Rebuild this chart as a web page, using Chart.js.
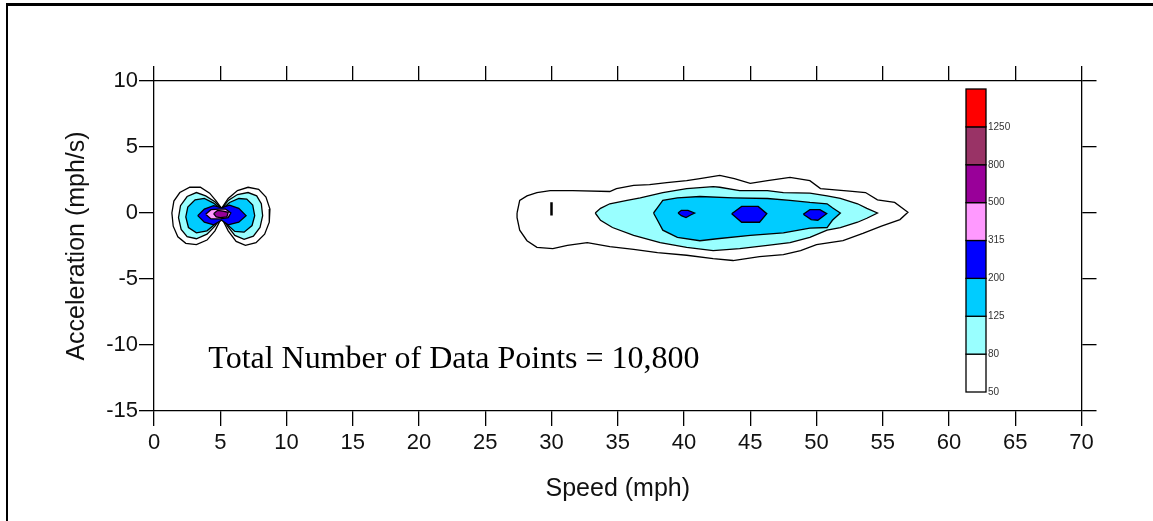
<!DOCTYPE html>
<html><head><meta charset="utf-8">
<script src="https://cdn.jsdelivr.net/npm/chart.js@4.4.1/dist/chart.umd.min.js"></script>
<style>
html,body{margin:0;padding:0;background:#fff;overflow:hidden;}
#wrap{position:relative;width:1153px;height:521px;overflow:hidden;}
#frame{position:absolute;left:6px;top:3px;width:1300px;height:700px;border-left:2px solid #000;border-top:3px solid #000;pointer-events:none;}
canvas{position:absolute;left:0;top:0;}
</style></head><body>
<div id="wrap"><canvas id="c" width="1153" height="521"></canvas><div id="frame"></div></div>
<script>
// ---- axis ticks ----
const speedTicks = [0,5,10,15,20,25,30,35,40,45,50,55,60,65,70];
const accelTicks = [-15,-10,-5,0,5,10];

// ---- contour levels & colours ----
const contourLevels = [50,80,125,200,315,500,800,1250];
const levelColors = ['#FFFFFF','#99FFFF','#00CCFF','#0000FF','#FF99FF','#990099','#993366','#FF0000'];
const dataPointCount = 10800;

// ---- low-speed cluster (around 5 mph), [speed, acceleration] ----
const lowC50 = [[5.1,0.35],[5.6,1.1],[6.3,1.7],[7.1,1.95],[7.9,1.8],[8.45,1.2],[8.75,0.3],[8.7,-0.7],[8.35,-1.6],[7.7,-2.25],[6.9,-2.45],[6.2,-2.15],[5.6,-1.35],[5.1,-0.35],[4.6,-1.35],[4.0,-2.05],[3.2,-2.4],[2.4,-2.3],[1.8,-1.8],[1.45,-1.0],[1.35,0.0],[1.5,0.9],[1.95,1.55],[2.7,1.95],[3.5,1.95],[4.2,1.5],[4.7,0.9],[5.1,0.35]];
const lowC80 = [[5.1,0.3],[5.6,0.95],[6.3,1.4],[7.1,1.55],[7.75,1.3],[8.1,0.7],[8.2,-0.2],[8.0,-1.1],[7.5,-1.75],[6.8,-2.0],[6.1,-1.7],[5.55,-1.0],[5.1,-0.3],[4.6,-1.0],[4.0,-1.6],[3.2,-1.95],[2.5,-1.8],[2.05,-1.25],[1.85,-0.35],[2.0,0.55],[2.5,1.25],[3.2,1.55],[3.9,1.3],[4.6,0.85],[5.1,0.3]];
const lowC125 = [[5.1,0.25],[5.7,0.8],[6.4,1.1],[7.0,1.05],[7.45,0.6],[7.6,-0.2],[7.4,-0.95],[6.8,-1.45],[6.1,-1.4],[5.5,-0.85],[5.1,-0.25],[4.6,-0.85],[4.0,-1.35],[3.2,-1.5],[2.6,-1.1],[2.4,-0.3],[2.55,0.45],[3.1,1.0],[3.8,1.1],[4.5,0.75],[5.1,0.25]];
const lowC200 = [[3.3,-0.2],[3.8,0.3],[4.5,0.55],[5.1,0.4],[5.7,0.6],[6.4,0.35],[6.95,-0.2],[6.4,-0.7],[5.6,-0.9],[5.1,-0.55],[4.5,-0.9],[3.8,-0.7],[3.3,-0.2]];
const lowC315 = [[3.9,-0.1],[4.3,0.25],[4.9,0.3],[5.4,0.3],[5.8,0.0],[5.6,-0.35],[5.0,-0.45],[4.3,-0.45],[3.9,-0.1]];
const lowC500 = [[4.5,-0.05],[4.8,0.2],[5.2,0.15],[5.6,0.05],[5.5,-0.3],[5.0,-0.35],[4.7,-0.3],[4.5,-0.05]];

// ---- cruising cluster (30-57 mph) ----
const highC50 = [[27.4,0],[27.6,0.95],[28.15,1.3],[28.9,1.55],[29.9,1.7],[31.6,1.7],[34.4,1.63],[34.9,1.85],[36.2,2.1],[37.4,2.15],[38.7,2.3],[40.2,2.45],[41.2,2.6],[42.7,2.85],[43.8,2.6],[45.0,2.25],[46.3,2.45],[48.0,2.7],[49.5,2.45],[50.3,1.85],[52.5,1.65],[53.7,1.55],[54.6,1.0],[55.9,0.8],[56.9,0.05],[56.3,-0.5],[54.9,-1.0],[53.5,-1.55],[52.0,-2.1],[50.0,-2.4],[48.8,-2.85],[47.5,-3.15],[45.7,-3.3],[43.7,-3.6],[42.2,-3.45],[40.2,-3.2],[38.0,-3.0],[36.2,-2.75],[34.4,-2.55],[32.7,-2.25],[31.2,-2.45],[30.1,-2.7],[28.9,-2.6],[28.15,-2.1],[27.6,-1.3],[27.4,-0.35],[27.4,0]];
const highC80 = [[33.3,0],[33.7,0.35],[34.4,0.7],[35.7,0.95],[36.7,1.15],[38.4,1.55],[40.2,1.85],[42.2,2.0],[42.7,1.95],[44.2,1.7],[46.3,1.7],[47.5,1.55],[49.5,1.5],[50.8,1.3],[51.8,1.1],[53.1,0.7],[53.8,0.35],[54.6,0],[53.8,-0.4],[53.1,-0.7],[51.8,-1.1],[50.8,-1.3],[49.5,-1.85],[48.0,-2.25],[46.3,-2.45],[44.2,-2.7],[42.2,-2.85],[40.2,-2.6],[38.2,-2.25],[36.2,-1.7],[34.6,-1.1],[33.7,-0.55],[33.3,0]];
const highC125 = [[37.7,0],[38.0,0.4],[38.4,0.95],[39.5,1.15],[41.2,1.25],[43.7,1.15],[46.3,1.1],[48.0,0.95],[49.5,0.8],[50.8,0.7],[51.2,0.4],[51.8,0],[51.2,-0.55],[50.8,-1.1],[49.5,-1.15],[47.5,-1.5],[45.0,-1.7],[42.5,-1.95],[41.2,-2.1],[39.5,-1.85],[38.4,-1.3],[38.0,-0.55],[37.7,0]];
const highC200a = [[39.55,0.0],[39.8,0.2],[40.3,0.2],[40.8,0.0],[40.5,-0.15],[40.15,-0.35],[39.8,-0.2],[39.55,0.0]];
const highC200b = [[43.6,-0.05],[44.35,0.5],[45.6,0.5],[46.25,-0.05],[45.7,-0.7],[44.35,-0.7],[43.6,-0.05]];
const highC200c = [[49.0,-0.1],[49.5,0.25],[50.26,0.25],[50.77,-0.05],[50.1,-0.55],[49.6,-0.5],[49.0,-0.1]];
const highIsland = [[30.0,0.82],[30.0,-0.19]];

const contourTable = [
  [50, lowC50], [80, lowC80], [125, lowC125], [200, lowC200], [315, lowC315], [500, lowC500],
  [50, highC50], [80, highC80], [125, highC125], [200, highC200a], [200, highC200b], [200, highC200c]
];

const datasets = contourTable.map(([level, pts]) => {
  const li = contourLevels.indexOf(level);
  return {
    data: pts.map(([x, y]) => ({x, y})),
    showLine: true, fill: 'shape', tension: 0,
    backgroundColor: levelColors[li], borderColor: '#000', borderWidth: 1.3,
    pointRadius: 0, pointHoverRadius: 0, order: -li, clip: false
  };
});
datasets.push({
  data: highIsland.map(([x, y]) => ({x, y})),
  showLine: true, fill: false, borderColor: '#000', borderWidth: 2.5,
  pointRadius: 0, order: -10
});

const SANS = '"Liberation Sans", Arial, sans-serif';
const tickFont = {family: SANS, size: 22};
const titleFont = {family: SANS, size: 25};
const gridOpts = {drawOnChartArea: false, drawTicks: true, tickLength: 15, color: '#000', lineWidth: 1.3};
const borderOpts = {display: true, color: '#000', width: 1.3};

const overlayPlugin = {
  id: 'overlay',
  afterDatasetsDraw(chart) {
    const {ctx} = chart;
    const xs = chart.scales.x, ys = chart.scales.y;
    ctx.save();
    // annotation
    ctx.font = '32px "Liberation Serif", "Times New Roman", serif';
    ctx.fillStyle = '#000';
    ctx.textAlign = 'left';
    ctx.textBaseline = 'alphabetic';
    ctx.fillText('Total Number of Data Points = ' + dataPointCount.toLocaleString('en-US'),
      xs.getPixelForValue(4.1), ys.getPixelForValue(-11.78));
    // colour bar legend
    const left = 966, w = 20, top = 89, bottom = 392;
    const n = levelColors.length, h = (bottom - top) / n;
    ctx.lineWidth = 1.3;
    ctx.strokeStyle = '#000';
    for (let i = 0; i < n; i++) {
      const y0 = bottom - (i + 1) * h;
      ctx.fillStyle = levelColors[i];
      ctx.fillRect(left, y0, w, h);
      ctx.strokeRect(left, y0, w, h);
    }
    ctx.font = '10px ' + SANS;
    ctx.fillStyle = '#333';
    ctx.textBaseline = 'middle';
    for (let i = 0; i < contourLevels.length; i++) {
      ctx.fillText(String(contourLevels[i]), left + w + 2, bottom - i * h);
    }
    ctx.restore();
  }
};

new Chart(document.getElementById('c'), {
  type: 'scatter',
  data: {datasets},
  plugins: [overlayPlugin],
  options: {
    responsive: false, animation: false, devicePixelRatio: 1,
    layout: {padding: 0},
    plugins: {legend: {display: false}, tooltip: {enabled: false}},
    events: [],
    scales: {
      x: {
        type: 'linear', axis: 'x', position: 'bottom', min: 0, max: 70,
        afterBuildTicks: s => { s.ticks = speedTicks.map(v => ({value: v})); },
        afterFit: s => { s.height = 110; },
        ticks: {font: tickFont, color: '#111', padding: 4, autoSkip: false, maxRotation: 0, callback: v => String(v)},
        grid: gridOpts, border: borderOpts,
        title: {display: true, text: 'Speed (mph)', font: titleFont, color: '#111', padding: {top: 0, bottom: 17}}
      },
      x2: {
        type: 'linear', axis: 'x', position: 'top', min: 0, max: 70,
        afterBuildTicks: s => { s.ticks = speedTicks.map(v => ({value: v})); },
        afterFit: s => { s.height = 81; },
        ticks: {display: false}, grid: gridOpts, border: borderOpts
      },
      y: {
        type: 'linear', axis: 'y', position: 'left', min: -15, max: 10,
        afterBuildTicks: s => { s.ticks = accelTicks.map(v => ({value: v})); },
        afterFit: s => { s.width = 154; },
        ticks: {font: tickFont, color: '#111', padding: 1, autoSkip: false, callback: v => String(v)},
        grid: gridOpts, border: borderOpts,
        title: {display: true, text: 'Acceleration (mph/s)', font: titleFont, color: '#111', padding: {top: 62, bottom: 0}}
      },
      y2: {
        type: 'linear', axis: 'y', position: 'right', min: -15, max: 10,
        afterBuildTicks: s => { s.ticks = accelTicks.map(v => ({value: v})); },
        afterFit: s => { s.width = 71.5; },
        ticks: {display: false}, grid: gridOpts, border: borderOpts
      }
    }
  }
});
</script></body></html>
